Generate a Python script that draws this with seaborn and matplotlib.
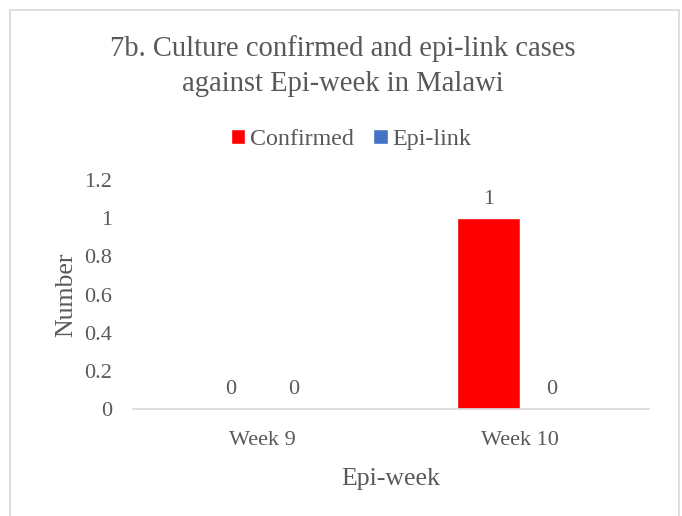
import numpy as np
import pandas as pd
import matplotlib
matplotlib.use("Agg")
import matplotlib.pyplot as plt
from matplotlib.patches import Patch, Rectangle
import seaborn as sns

# Data
weeks = ["Week 9", "Week 10"]
series = ["Confirmed", "Epi-link"]
confirmed = [0, 1]
epi_link = [0, 0]
colors = {"Confirmed": "#ff0000", "Epi-link": "#4472c4"}

df = pd.DataFrame({
    "week": weeks * 2,
    "type": ["Confirmed"] * len(weeks) + ["Epi-link"] * len(weeks),
    "value": confirmed + epi_link,
})

sns.set_theme(style="white")
plt.rcParams["font.family"] = ["Liberation Serif", "DejaVu Serif"]
text_col = "#595959"

fig = plt.figure(figsize=(6.82, 5.16), dpi=100)
ax = fig.add_axes([0.195, 0.207, 0.757, 0.444])

sns.barplot(data=df, x="week", y="value", hue="type", order=weeks,
            hue_order=series, palette=colors, width=0.49, saturation=1,
            legend=False, ax=ax)

for cont in ax.containers:
    ax.bar_label(cont, labels=[f"{b.get_height():g}" for b in cont],
                 padding=7, fontsize=16, color=text_col)

ax.set_ylim(0, 1.2)
ax.set_yticks(np.arange(0, 1.21, 0.2))
ax.set_yticklabels(["0", "0.2", "0.4", "0.6", "0.8", "1", "1.2"])
ax.tick_params(axis="both", length=0, labelsize=16, colors=text_col)
ax.tick_params(axis="y", pad=15)
ax.tick_params(axis="x", pad=16)
ax.set_xlabel("Epi-week", fontsize=18.5, color=text_col, labelpad=13)
ax.set_ylabel("Number", fontsize=18.5, color=text_col, labelpad=5)

for s in ["top", "right", "left"]:
    ax.spines[s].set_visible(False)
ax.spines["bottom"].set_color("#d9d9d9")
ax.spines["bottom"].set_linewidth(1.2)

fig.text(0.503, 0.872, "7b. Culture confirmed and epi-link cases\nagainst Epi-week in Malawi",
         ha="center", va="center", fontsize=20.6, color=text_col, linespacing=1.42)

handles = [Patch(facecolor=colors[s], label=s) for s in series]
fig.legend(handles=handles, loc="center", bbox_to_anchor=(0.515, 0.73), ncol=2,
           frameon=False, fontsize=17.3, labelcolor=text_col, handlelength=0.6,
           handleheight=0.6, handletextpad=0.2, columnspacing=0.8)

# chart frame
fig.patches.append(Rectangle((10 / 682, -0.05), 669 / 682, 1.05 - 10 / 516,
                             transform=fig.transFigure, fill=False,
                             edgecolor="#d9d9d9", linewidth=1.2))

fig.savefig("out.png", dpi=100)
